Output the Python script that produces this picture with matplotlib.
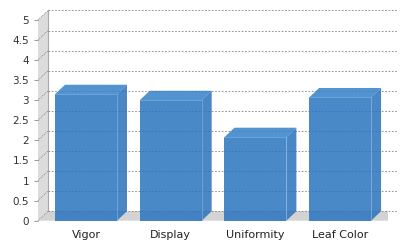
import numpy as np
import matplotlib
matplotlib.use("Agg")
import matplotlib.pyplot as plt
from matplotlib.patches import Polygon

categories = ["Vigor", "Display", "Uniformity", "Leaf Color"]
values = [3.15, 3.0, 2.08, 3.07]
y_ticks = [0, 0.5, 1, 1.5, 2, 2.5, 3, 3.5, 4, 4.5, 5]
y_tick_labels = ["0", "0.5", "1", "1.5", "2", "2.5", "3", "3.5", "4", "4.5", "5"]

W, H = 410, 250
fig = plt.figure(figsize=(W / 100, H / 100), dpi=100)
fig.patch.set_facecolor("white")

px_x = 84.7   # pixels per category
px_y = 40.14  # pixels per value unit
ax = fig.add_axes([38 / W, (H - 220.7) / H, 350 / W, (220.7 - 10) / H])
xmin = -48 / px_x
xmax = xmin + 350 / px_x
ymax = (220.7 - 10) / px_y
ax.set_xlim(xmin, xmax)
ax.set_ylim(0, ymax)
ax.patch.set_alpha(0)
for s in ax.spines.values():
    s.set_visible(False)

dx = 10 / px_x
dy = 9.5 / px_y
top = y_ticks[-1]

# left wall
ax.add_patch(Polygon([(xmin, 0), (xmin, top), (xmin + dx, top + dy), (xmin + dx, dy)],
                     closed=True, facecolor="#dcdcdc", edgecolor="none", zorder=1))
ax.plot([xmin + dx, xmin + dx], [dy, top + dy], color="#a8a8a8", lw=0.8, zorder=1.5)
# floor
ax.add_patch(Polygon([(xmin, 0), (xmax, 0), (xmax + dx, dy), (xmin + dx, dy)],
                     closed=True, facecolor="#d3d3d3", edgecolor="none", zorder=1))

# gridlines on back plane + wall diagonals
for v in y_ticks:
    ax.plot([xmin + dx, xmax + dx], [v + dy, v + dy], color="#808080", lw=0.6,
            ls=(0, (2, 2)), zorder=2, clip_on=False)
    ax.plot([xmin, xmin + dx], [v, v + dy], color="#707070", lw=0.6,
            ls=(0, (1, 1.5)), zorder=2, clip_on=False)

# bars
x = np.arange(len(categories))
bw = 62 / px_x
alpha = 0.85
front_c = "#2a74bf"
top_c = "#3580c8"
side_c = "#2a72ba"
ax.bar(x, values, width=bw, color=front_c, alpha=alpha, zorder=3, linewidth=0)
for xi, v in zip(x, values):
    l, r = xi - bw / 2, xi + bw / 2
    ax.add_patch(Polygon([(l, v), (r, v), (r + dx, v + dy), (l + dx, v + dy)],
                         closed=True, facecolor=top_c, alpha=alpha, edgecolor="none", zorder=3))
    ax.add_patch(Polygon([(r, 0), (r, v), (r + dx, v + dy), (r + dx, dy)],
                         closed=True, facecolor=side_c, alpha=alpha, edgecolor="none", zorder=3))
    ax.plot([l, r, r], [v, v, 0], color="#7fb3e3", lw=0.6, alpha=0.8, zorder=4)

# axes ticks
ax.set_yticks(y_ticks)
ax.set_yticklabels(y_tick_labels)
ax.tick_params(axis="y", length=3, width=0.6, color="#888888", pad=3.5, labelsize=7.5,
               labelcolor="#333333")
ax.set_xticks(x)
ax.set_xticklabels(categories)
ax.tick_params(axis="x", length=0, pad=6.5, labelsize=8, labelcolor="#222222")

fig.savefig("out.png", dpi=100, facecolor="white")
